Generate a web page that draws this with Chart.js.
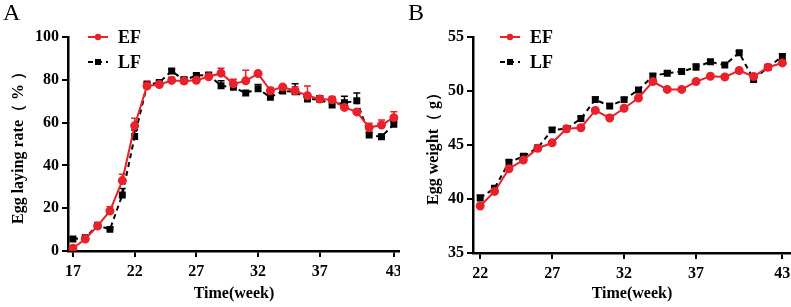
<!DOCTYPE html>
<html>
<head>
<meta charset="utf-8">
<script src="https://cdn.jsdelivr.net/npm/chart.js@4.4.1/dist/chart.umd.min.js"></script>
<style>
body { margin: 0; background: #fff; width: 791px; height: 307px; position: relative; overflow: hidden; }
canvas { position: absolute; top: 0; }
#chartA { left: 0; }
#chartB { left: 400px; }
.panel { position: absolute; top: -1px; font: 24px 'Liberation Serif', 'Times New Roman', serif; color: #000; }
</style>
</head>
<body>
<canvas id="chartA" width="400" height="307"></canvas>
<canvas id="chartB" width="391" height="307"></canvas>
<div class="panel" style="left:3px">A</div>
<div class="panel" style="left:408px">B</div>
<script>
// panel A - egg laying rate, weeks 17..43
var weeksA = [17,18,19,20,21,22,23,24,25,26,27,28,29,30,31,32,33,34,35,36,37,38,39,40,41,42,43];
var rateEF = [1.3,5.6,11.7,18.7,32.9,58.5,77.1,77.8,79.7,79.4,79.8,81.4,83.1,78.1,79.5,82.9,74.9,76.6,74.9,72.6,71.0,70.7,67.1,65.0,57.7,58.9,62.3];
var rateLF = [5.6,6.2,12.0,10.1,26.2,53.5,77.5,78.8,84.1,79.8,82.0,82.2,77.2,76.5,73.8,75.8,71.8,74.8,74.4,71.0,70.9,68.2,69.3,70.2,54.2,53.4,59.2];
var rateEFerr = [0.5,0.8,1.2,2.0,3.0,3.5,2.3,1.0,1.5,1.5,1.5,1.0,2.3,2.2,5.0,1.0,1.5,1.0,1.8,4.5,1.5,1.5,1.0,1.0,2.0,2.3,2.8];
var rateLFerr = [0.5,0.5,1.0,1.0,3.0,3.0,1.5,1.0,1.0,1.5,1.0,1.0,2.4,2.0,1.0,2.0,1.0,1.5,3.8,1.0,1.5,1.5,3.0,3.6,1.2,1.0,1.5];
var ticksXA = [17,22,27,32,37,43];

// panel B - egg weight, weeks 22..43
var weeksB = [22,23,24,25,26,27,28,29,30,31,32,33,34,35,36,37,38,39,40,41,42,43];
var weightEF = [39.35,40.7,42.8,43.6,44.7,45.2,46.5,46.6,48.2,47.5,48.4,49.35,50.87,50.15,50.15,50.87,51.37,51.3,51.9,51.34,52.2,52.6];
var weightLF = [40.1,41.0,43.4,43.95,44.75,46.4,46.5,47.45,49.2,48.6,49.2,50.1,51.4,51.65,51.8,52.2,52.7,52.4,53.54,51.06,52.2,53.2];
var weightEFerr = [0.2,0.2,0.15,0.15,0.15,0.15,0.2,0.2,0.2,0.25,0.2,0.15,0.2,0.15,0.15,0.2,0.15,0.15,0.15,0.15,0.15,0.15];
var weightLFerr = [0.25,0.2,0.2,0.15,0.15,0.2,0.15,0.2,0.25,0.25,0.2,0.2,0.2,0.2,0.2,0.3,0.2,0.2,0.15,0.15,0.15,0.2];
var ticksXB = [22,27,32,37,43];

var RED = '#e8212b';
var SERIF = "'Liberation Serif', 'Times New Roman', serif";

function pts(xs, ys) {
    return xs.map(function (x, i) { return { x: x, y: ys[i] }; });
}

// one-sided (upper) error bars, drawn behind the lines
var errorBars = {
    id: 'errorBars',
    beforeDatasetsDraw: function (chart) {
        var ctx = chart.ctx;
        var ys = chart.scales.y;
        chart.data.datasets.forEach(function (ds, i) {
            var meta = chart.getDatasetMeta(i);
            ctx.save();
            ctx.strokeStyle = ds.borderColor;
            ctx.lineWidth = 1.5;
            meta.data.forEach(function (el, j) {
                var top = ys.getPixelForValue(ds.data[j].y + ds.errors[j]);
                ctx.beginPath();
                ctx.moveTo(el.x, el.y);
                ctx.lineTo(el.x, top);
                ctx.moveTo(el.x - 3.5, top);
                ctx.lineTo(el.x + 3.5, top);
                ctx.stroke();
            });
            ctx.restore();
        });
    }
};

// legend drawn as line + marker + label
var lineLegend = {
    id: 'lineLegend',
    afterDraw: function (chart, args, opts) {
        var ctx = chart.ctx;
        chart.data.datasets.forEach(function (ds, i) {
            var y = opts.y + i * 25;
            var x0 = opts.x, x1 = opts.x + 20;
            ctx.save();
            ctx.strokeStyle = ds.borderColor;
            ctx.lineWidth = 2;
            ctx.setLineDash(ds.borderDash || []);
            ctx.beginPath();
            ctx.moveTo(x0, y);
            ctx.lineTo(x1, y);
            ctx.stroke();
            ctx.setLineDash([]);
            ctx.fillStyle = ds.borderColor;
            var mx = (x0 + x1) / 2;
            if (ds.pointStyle === 'rect') {
                ctx.fillRect(mx - 3, y - 3, 6, 6);
            } else {
                ctx.beginPath();
                ctx.arc(mx, y, 3.2, 0, Math.PI * 2);
                ctx.fill();
            }
            ctx.fillStyle = '#000';
            ctx.font = 'bold 18px ' + SERIF;
            ctx.textBaseline = 'middle';
            ctx.fillText(ds.label, x1 + 10, y + 1);
            ctx.restore();
        });
    }
};

function makeChart(id, cfg) {
    var tickFont = { family: SERIF, size: 16, weight: 'bold' };
    return new Chart(document.getElementById(id), {
        type: 'line',
        data: {
            datasets: [{
                label: 'EF',
                data: pts(cfg.weeks, cfg.ef),
                errors: cfg.efErr,
                borderColor: RED,
                backgroundColor: RED,
                borderWidth: 2,
                pointStyle: 'circle',
                pointRadius: 3.5,
                tension: 0
            }, {
                label: 'LF',
                data: pts(cfg.weeks, cfg.lf),
                errors: cfg.lfErr,
                borderColor: '#000',
                backgroundColor: '#000',
                borderWidth: 2,
                borderDash: [5, 4],
                pointStyle: 'rect',
                pointRadius: 3.5,
                tension: 0
            }]
        },
        options: {
            responsive: false,
            animation: false,
            devicePixelRatio: 1,
            layout: { autoPadding: false, padding: { top: 37, left: 0, right: 0, bottom: 0 } },
            plugins: {
                legend: { display: false },
                tooltip: { enabled: false },
                lineLegend: { x: cfg.legendX, y: 37 }
            },
            scales: {
                x: {
                    type: 'linear',
                    min: cfg.xMin,
                    max: cfg.xMax,
                    afterBuildTicks: function (s) {
                        s.ticks = cfg.xTicks.map(function (v) { return { value: v }; });
                    },
                    afterFit: function (s) {
                        s.height = cfg.xHeight;
                        s.paddingLeft = 0;
                        s.paddingRight = 0;
                    },
                    ticks: { color: '#000', font: tickFont, padding: 5, autoSkip: false, maxRotation: 0 },
                    grid: { drawOnChartArea: false, drawTicks: true, tickLength: 6, color: '#000', lineWidth: 2 },
                    border: { color: '#000', width: 2.5 },
                    title: { display: true, text: 'Time(week)', color: '#000', font: tickFont, padding: { top: 10 } }
                },
                y: {
                    min: cfg.yMin,
                    max: cfg.yMax,
                    afterFit: function (s) {
                        s.width = cfg.yWidth;
                        s.paddingTop = 0;
                        s.paddingBottom = 0;
                    },
                    ticks: { stepSize: cfg.yStep, color: '#000', font: tickFont, padding: 3 },
                    grid: { drawOnChartArea: false, drawTicks: true, tickLength: 6, color: '#000', lineWidth: 2 },
                    border: { color: '#000', width: 2.5 },
                    title: { display: true, text: cfg.yTitle, color: '#000', font: tickFont, padding: { top: cfg.yTitlePad, bottom: 0 } }
                }
            }
        },
        plugins: [errorBars, lineLegend]
    });
}

makeChart('chartA', {
    weeks: weeksA, ef: rateEF, lf: rateLF, efErr: rateEFerr, lfErr: rateLFerr,
    xMin: 16.6, xMax: 43.5, xTicks: ticksXA, xHeight: 56,
    yMin: 0, yMax: 100, yStep: 20, yWidth: 68, yTitlePad: 9,
    yTitle: 'Egg laying rate（ % ）', legendX: 88
});

makeChart('chartB', {
    weeks: weeksB, ef: weightEF, lf: weightLF, efErr: weightEFerr, lfErr: weightLFerr,
    xMin: 21.5, xMax: 43.6, xTicks: ticksXB, xHeight: 54,
    yMin: 35, yMax: 55, yStep: 5, yWidth: 73, yTitlePad: 24,
    yTitle: 'Egg weight（ g）', legendX: 100
});
</script>
</body>
</html>
